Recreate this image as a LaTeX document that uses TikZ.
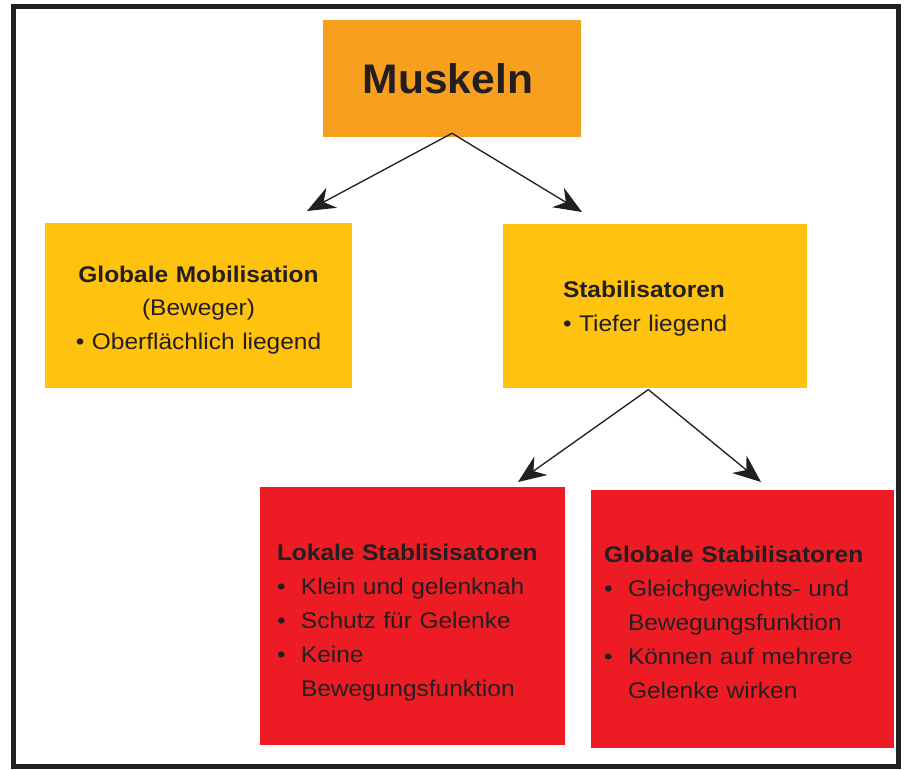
\documentclass[tikz,border=0pt]{standalone}
\usepackage{fontspec}
\setmainfont{Liberation Sans}[FakeStretch=1.08]
\newfontfamily\titlefont{Liberation Sans}[FakeStretch=1.03]
\usetikzlibrary{arrows.meta}

\definecolor{txtdark}{RGB}{35,31,32}
\definecolor{muskelorange}{RGB}{247,160,31}
\definecolor{boxyellow}{RGB}{255,194,14}
\definecolor{boxred}{RGB}{237,28,36}

\tikzset{
  box/.style={fill=#1, inner ysep=0pt, text=txtdark},
  boxtext/.style={font=\fontsize{17pt}{25pt}\selectfont},
  pfeil/.style={draw=txtdark, line width=1pt, -{Stealth[length=21pt,width=17pt]}},
}
\newcommand{\bpunkt}{\makebox[18pt][l]{\textbullet}}
\newcommand{\einzug}{\hspace*{18pt}}
\newcommand{\oben}[1]{\rule{0pt}{#1}}

\begin{document}
\begin{tikzpicture}[x=0.75pt,y=0.75pt,yscale=-1,xscale=1]
\useasboundingbox (0,0) rectangle (912,769);

%Shape: Frame
\draw [line width=3.75pt, txtdark] (13.5,6.5) rectangle (898,766.5);

%Shape: Rectangle (top)
\node [box=muskelorange, minimum width=258*0.75pt, minimum height=117*0.75pt, font=\titlefont\bfseries\fontsize{31pt}{36pt}\selectfont] (muskeln) at (452,78.5) {Muskeln\hspace*{6pt}};

%Shape: Rectangle (second row)
\node [box=boxyellow, boxtext, text width=273*0.75pt, inner xsep=17*0.75pt, minimum height=165*0.75pt, align=center] (mobil) at (198.5,305.5)
  {\oben{19pt}\textbf{Globale Mobilisation}\\ (Beweger)\\ \textbullet{} Oberflächlich liegend};
\node [box=boxyellow, boxtext, text width=184*0.75pt, inner xsep=60*0.75pt, minimum height=164*0.75pt, align=left] (stabil) at (655,306)
  {\oben{16.5pt}\textbf{Stabilisatoren}\\ \textbullet{} Tiefer liegend};

%Shape: Rectangle (third row)
\node [box=boxred, font=\fontsize{17pt}{25.5pt}\selectfont, text width=271*0.75pt, inner xsep=17*0.75pt, minimum height=258*0.75pt, align=left] (lokal) at (412.5,616)
  {\oben{22pt}\textbf{Lokale Stablisisatoren}\\
   \bpunkt Klein und gelenknah\\
   \bpunkt Schutz für Gelenke\\
   \bpunkt Keine\\
   \einzug Bewegungsfunktion};
\node [box=boxred, font=\fontsize{17pt}{25.5pt}\selectfont, text width=277*0.75pt, inner xsep=13*0.75pt, minimum height=258*0.75pt, align=left] (globstab) at (742.5,619)
  {\oben{17.5pt}\textbf{Globale Stabilisatoren}\\
   \bpunkt Gleichgewichts- und\\
   \einzug Bewegungsfunktion\\
   \bpunkt Können auf mehrere\\
   \einzug Gelenke wirken};

% arrow ends
\coordinate (spitzeA) at (307,211);
\coordinate (spitzeB) at (582,212);
\coordinate (spitzeC) at (518,482);
\coordinate (spitzeD) at (761,482);

%Straight Lines
\draw [pfeil] ([yshift=-3pt]muskeln.south) -- (spitzeA);
\draw [pfeil] ([yshift=-3pt]muskeln.south) -- (spitzeB);
\draw [pfeil] ([xshift=-5pt,yshift=1pt]stabil.south) -- (spitzeC);
\draw [pfeil] ([xshift=-5pt,yshift=1pt]stabil.south) -- (spitzeD);

\end{tikzpicture}
\end{document}
